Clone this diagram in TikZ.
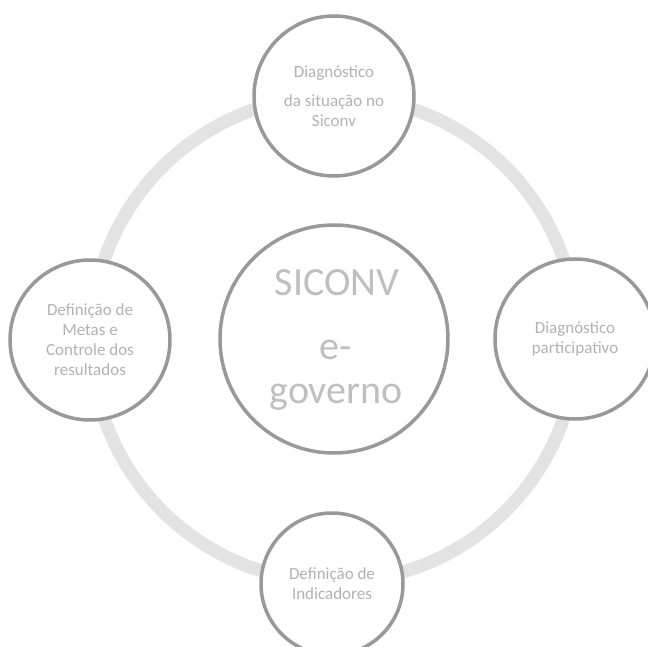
\documentclass[tikz,border=0pt]{standalone}
\usepackage{fontspec}
\setmainfont{Carlito}
\begin{document}
\begin{tikzpicture}[x=1pt,y=1pt,
  ring/.style={circle,draw=gray!80,line width=3.5pt,fill=white,inner sep=0pt,
    text=gray!60,align=center,font=\fontsize{17}{20}\selectfont},
  sat/.style={ring,minimum size=160pt},
  bigring/.style={ring,minimum size=228pt},
  bigtext/.style={text=gray!50,font=\fontsize{40}{44}\selectfont,anchor=base,inner sep=0pt},
  band/.style={draw=gray!22,line width=13pt}]
\useasboundingbox (0,0) rectangle (648,646);
\node[bigring] (center) at (334,307) {};
\node[bigtext] (t1) at (337,350) {SICONV};
\node[bigtext] (t2) at (336,286) {e-};
\node[bigtext] (t3) at (336,243) {governo};
% connectors: arcs on the ring around the centre circle
\path (center.center) ++(105:243) coordinate (a1)
      (center.center) ++(195:243) coordinate (a2)
      (center.center) ++(285:243) coordinate (a3)
      (center.center) ++(15:243) coordinate (a4);
\draw[band] (a1) arc[start angle=105,end angle=165,radius=243];
\draw[band] (a2) arc[start angle=195,end angle=255,radius=243];
\draw[band] (a3) arc[start angle=285,end angle=345,radius=243];
\draw[band] (a4) arc[start angle=15,end angle=75,radius=243];
\node[sat] (top) at (334,550) {Diagnóstico\\[9pt]da situação no\\Siconv};
\node[sat] (left) at (90,306) {Definição de\\Metas e\\Controle dos\\resultados};
\node[sat] (right) at (575,307) {Diagnóstico\\participativo};
\node[ring,minimum size=142pt] (bottom) at (332,62) {Definição de\\Indicadores};
\end{tikzpicture}
\end{document}
